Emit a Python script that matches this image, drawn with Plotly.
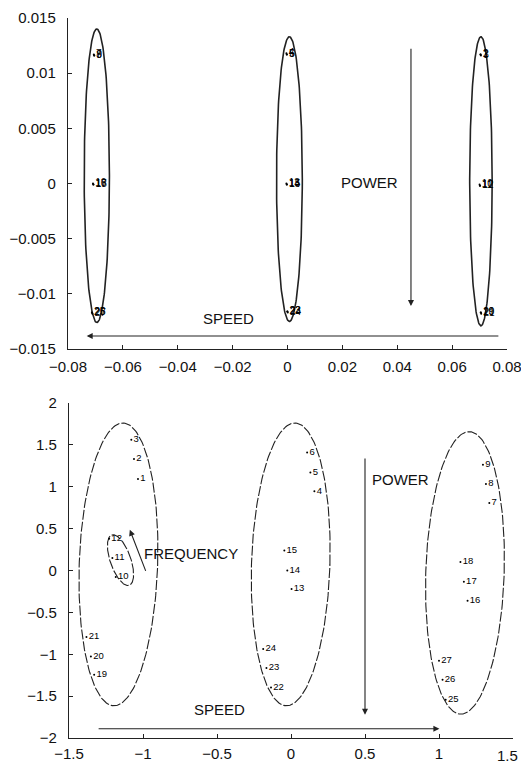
import numpy as np
import plotly.graph_objects as go

# ---------------- data ----------------
# top chart: overlapping point labels (label, x, y)
top_labels = ["7", "8", "9", "16", "17", "18", "25", "26", "27",
              "4", "5", "6", "13", "14", "15", "22", "23", "24",
              "1", "2", "3", "10", "11", "12", "19", "20", "21"]
top_x = [-0.0706, -0.0705, -0.0704, -0.0709, -0.0708, -0.0707, -0.0713, -0.0712, -0.0711,
         -0.0004, -0.0003, -0.0002, -0.0004, -0.0003, -0.0002, -0.0001, 0.0000, 0.0001,
         0.0703, 0.0704, 0.0705, 0.0700, 0.0701, 0.0702, 0.0704, 0.0705, 0.0706]
top_y = [0.0117, 0.0116, 0.0116, 0.0000, -0.0001, -0.0001, -0.0117, -0.0117, -0.0118,
         0.0118, 0.0117, 0.0117, 0.0000, -0.0001, -0.0001, -0.0116, -0.0116, -0.0117,
         0.0117, 0.0117, 0.0116, -0.0001, -0.0002, -0.0002, -0.0117, -0.0117, -0.0118]

# top ellipses: centre x, centre y, semi-axis x, semi-axis y
top_ell_cx = [-0.0695, 0.0007, 0.0705]
top_ell_cy = [0.0007, 0.0004, 0.0002]
top_ell_a = [0.0046, 0.0047, 0.0041]
top_ell_b = [0.0133, 0.0129, 0.0131]

# bottom chart points
bot_labels = [str(i) for i in range(1, 28)]
bot_x = [-1.034, -1.061, -1.079, 0.158, 0.131, 0.109, 1.340, 1.317, 1.297,
         -1.184, -1.207, -1.229, 0.004, -0.025, -0.045, 1.193, 1.168, 1.145,
         -1.330, -1.352, -1.382, -0.135, -0.166, -0.188, 1.045, 1.024, 1.000]
bot_y = [1.093, 1.331, 1.562, 0.945, 1.171, 1.410, 0.806, 1.033, 1.263,
         -0.078, 0.149, 0.380, -0.221, 0.001, 0.240, -0.361, -0.134, 0.101,
         -1.244, -1.026, -0.794, -1.396, -1.164, -0.937, -1.543, -1.304, -1.077]

# bottom ellipses: centre x, centre y, semi-axis x, semi-axis y, tilt (shear)
bot_ell_cx = [-1.166, -0.002, 1.1755, -1.152]
bot_ell_cy = [0.073, 0.073, -0.028, 0.124]
bot_ell_a = [0.265, 0.265, 0.265, 0.073]
bot_ell_b = [1.688, 1.688, 1.686, 0.303]
bot_ell_k = [0.030, 0.028, 0.028, -0.050]

# tick labels
top_xticks = [-0.08, -0.06, -0.04, -0.02, 0, 0.02, 0.04, 0.06, 0.08]
top_xtext = ["\u22120.08", "\u22120.06", "\u22120.04", "\u22120.02", "0", "0.02", "0.04", "0.06", "0.08"]
top_yticks = [-0.015, -0.01, -0.005, 0, 0.005, 0.01, 0.015]
top_ytext = ["\u22120.015", "\u22120.01", "\u22120.005", "0", "0.005", "0.01", "0.015"]
bot_xticks = [-1.5, -1, -0.5, 0, 0.5, 1, 1.5]
bot_xtext = ["\u22121.5", "\u22121", "\u22120.5", "0", "0.5", "1", "1.5"]
bot_yticks = [-2, -1.5, -1, -0.5, 0, 0.5, 1, 1.5, 2]
bot_ytext = ["\u22122", "\u22121.5", "\u22121", "\u22120.5", "0", "0.5", "1", "1.5", "2"]

FONT = "Liberation Sans, Arial, sans-serif"
W, H = 521, 764

fig = go.Figure()

t = np.linspace(0, 2 * np.pi, 200)

# top ellipses
for cx, cy, a, b in zip(top_ell_cx, top_ell_cy, top_ell_a, top_ell_b):
    fig.add_trace(go.Scatter(x=cx + a * np.cos(t), y=cy + b * np.sin(t), mode="lines",
                             line=dict(color="#222", width=1.6), xaxis="x", yaxis="y",
                             hoverinfo="skip", showlegend=False))

fig.add_trace(go.Scatter(x=top_x, y=top_y, mode="markers+text", text=top_labels,
                         textposition="middle right",
                         textfont=dict(family=FONT, size=10, color="#000"),
                         marker=dict(size=2, color="#000"), xaxis="x", yaxis="y",
                         showlegend=False))

# bottom ellipses
for cx, cy, a, b, k in zip(bot_ell_cx, bot_ell_cy, bot_ell_a, bot_ell_b, bot_ell_k):
    fig.add_trace(go.Scatter(x=cx + a * np.cos(t) + k * np.sin(t), y=cy + b * np.sin(t),
                             mode="lines", line=dict(color="#222", width=1.1, dash="10px,2px"),
                             xaxis="x2", yaxis="y2", hoverinfo="skip", showlegend=False))

fig.add_trace(go.Scatter(x=bot_x, y=bot_y, mode="markers+text", text=bot_labels,
                         textposition="middle right",
                         textfont=dict(family=FONT, size=9.5, color="#000"),
                         marker=dict(size=2, color="#000"), xaxis="x2", yaxis="y2",
                         showlegend=False))

# arrows and texts
def arrow(xr, yr, x0, y0, x1, y1):
    fig.add_annotation(x=x1, y=y1, ax=x0, ay=y0, xref=xr, yref=yr, axref=xr, ayref=yr,
                       showarrow=True, arrowhead=2, arrowsize=1.1, arrowwidth=1.1,
                       arrowcolor="#222", text="")

def label(xr, yr, x, y, txt):
    fig.add_annotation(x=x, y=y, xref=xr, yref=yr, text=txt, showarrow=False,
                       font=dict(family=FONT, size=15, color="#111"))

arrow("x", "y", 0.045, 0.01235, 0.045, -0.0111)
arrow("x", "y", 0.0774, -0.01382, -0.0732, -0.01382)
label("x", "y", 0.030, 0.0001, "POWER")
label("x", "y", -0.0216, -0.0122, "SPEED")

arrow("x2", "y2", 0.5, 1.355, 0.5, -1.722)
arrow("x2", "y2", -1.31, -1.889, 1.003, -1.889)
arrow("x2", "y2", -0.978, -0.022, -1.089, 0.487)
label("x2", "y2", 0.743, 1.092, "POWER")
label("x2", "y2", -0.484, -1.662, "SPEED")
label("x2", "y2", -0.675, 0.209, "FREQUENCY")

# last bottom x tick label kept inside the page edge
bot_xtext_shown = bot_xtext[:-1] + [""]
fig.add_annotation(x=520 / W, y=1 - 738 / H, xref="paper", yref="paper",
                   xanchor="right", yanchor="top", yshift=-7, text=bot_xtext[-1],
                   showarrow=False, font=dict(family=FONT, size=15, color="#111"))

axis_common = dict(showgrid=False, zeroline=False, showline=True, linecolor="#222",
                   linewidth=1.4, ticks="inside", ticklen=4, tickcolor="#222",
                   tickfont=dict(family=FONT, size=15, color="#111"), mirror=False,
                   tickmode="array", automargin=False, ticklabeloverflow="allow")

fig.update_layout(
    width=W, height=H, margin=dict(l=0, r=0, t=0, b=0, autoexpand=False),
    paper_bgcolor="white", plot_bgcolor="white", showlegend=False,
    xaxis=dict(axis_common, range=[-0.08, 0.08], tickvals=top_xticks, ticktext=top_xtext,
               domain=[68 / W, 507 / W], anchor="y", ticklabelstandoff=4),
    yaxis=dict(axis_common, range=[-0.015, 0.015], tickvals=top_yticks, ticktext=top_ytext,
               domain=[1 - 349 / H, 1 - 18 / H], anchor="x", ticklabelstandoff=8),
    xaxis2=dict(axis_common, range=[-1.5, 1.5], tickvals=bot_xticks, ticktext=bot_xtext_shown,
                domain=[69 / W, 513 / W], anchor="y2", ticklabelstandoff=2),
    yaxis2=dict(axis_common, range=[-2, 2], tickvals=bot_yticks, ticktext=bot_ytext,
                domain=[1 - 738 / H, 1 - 403 / H], anchor="x2", ticklabelstandoff=8),
)

fig.write_html("out.html", config={"displayModeBar": False},
               post_script="document.body.style.margin='0';document.body.style.overflow='hidden';")
